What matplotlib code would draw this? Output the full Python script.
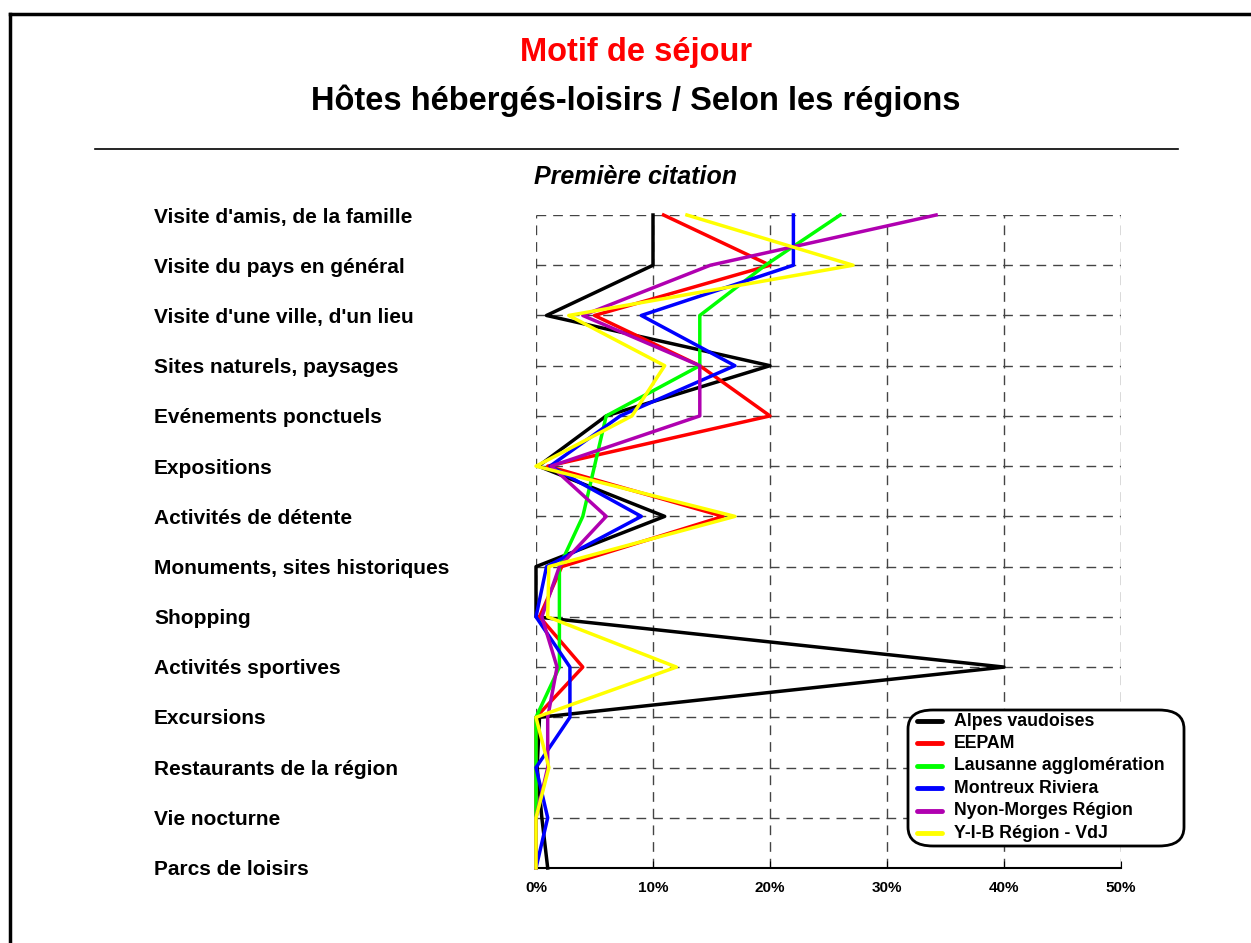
import matplotlib.pyplot as plt
from matplotlib.patches import FancyBboxPatch

plt.rcParams['font.family'] = ['Liberation Sans', 'DejaVu Sans']

# categories, top to bottom
categories = [
    "Visite d'amis, de la famille",
    "Visite du pays en général",
    "Visite d'une ville, d'un lieu",
    "Sites naturels, paysages",
    "Evénements ponctuels",
    "Expositions",
    "Activités de détente",
    "Monuments, sites historiques",
    "Shopping",
    "Activités sportives",
    "Excursions",
    "Restaurants de la région",
    "Vie nocturne",
    "Parcs de loisirs",
]

# percent values per region
alpes = [10, 10, 0.9, 20, 6, 0.2, 11, 0, 0, 40, 0.3, 0.1, 0.5, 1.0]
eepam = [10.9, 20, 5, 14, 20, 1, 16, 2.2, 0.3, 4, 0, 0, 0, 0]
lausanne = [26, 19.6, 14, 14, 6, 5, 4, 2, 2, 2, 0, 0, 0, 0]
montreux = [22, 22, 9, 17, 7.2, 1.2, 9, 0.9, 0, 2.9, 2.9, 0, 1, 0]
nyon = [34.2, 14.9, 4, 14, 14, 1.3, 6, 2, 0.5, 1.8, 1, 1, 0, 0]
yib = [12.9, 27.1, 2.8, 11, 8.2, 0, 17, 1.1, 1, 12, 0, 1.1, 0, 0]

series = [
    ("Alpes vaudoises", alpes, "#000000"),
    ("EEPAM", eepam, "#ff0000"),
    ("Lausanne agglomération", lausanne, "#00ff00"),
    ("Montreux Riviera", montreux, "#0000ff"),
    ("Nyon-Morges Région", nyon, "#b000b0"),
    ("Y-I-B Région - VdJ", yib, "#ffff00"),
]

fig = plt.figure(figsize=(12.51, 9.43), dpi=100)

# outer frame (top and left edges visible)
fig.add_artist(plt.Line2D([10 / 1251, 10 / 1251], [0, 1 - 14 / 943], color='black', lw=2.5))
fig.add_artist(plt.Line2D([10 / 1251, 1], [1 - 14 / 943, 1 - 14 / 943], color='black', lw=2.5))

# titles
fig.text(636 / 1251, 1 - 53 / 943, "Motif de séjour", color='#ff0000', fontsize=23.5,
         fontweight='bold', ha='center', va='center')
fig.text(636 / 1251, 1 - 101 / 943, "Hôtes hébergés-loisirs / Selon les régions", color='black',
         fontsize=23.5, fontweight='bold', ha='center', va='center')
fig.add_artist(plt.Line2D([95 / 1251, 1178 / 1251], [1 - 149 / 943, 1 - 149 / 943], color='black', lw=1.2))
fig.text(636 / 1251, 1 - 177 / 943, "Première citation", color='black', fontsize=18,
         fontweight='bold', style='italic', ha='center', va='center')

ax = fig.add_axes([536 / 1251, 1 - 868 / 943, 585 / 1251, (868 - 215) / 943])
y = list(range(len(categories)))

for name, vals, col in series:
    ax.plot(vals, y, color=col, lw=2.5, label=name, clip_on=False, zorder=3)

ax.set_xlim(0, 50)
ax.set_ylim(len(categories) - 1, 0)
ax.set_xticks([0, 10, 20, 30, 40, 50])
ax.set_xticklabels(["0%", "10%", "20%", "30%", "40%", "50%"], fontsize=11, fontweight='bold')
ax.tick_params(axis='x', direction='in', length=5, pad=9)
ax.set_yticks(y)
ax.set_yticklabels([])
ax.tick_params(axis='y', length=0)
ax.grid(True, color='#444444', linestyle=(0, (7, 5)), lw=1)
for s in ['top', 'right', 'left']:
    ax.spines[s].set_visible(False)
ax.spines['bottom'].set_linewidth(1.5)

# category labels on the left
for i, cat in enumerate(categories):
    ax.text(154 / 1251, 1 - (217 + i * 50.2) / 943, cat, transform=fig.transFigure,
            fontsize=15, fontweight='bold', ha='left', va='center')

# legend
box = FancyBboxPatch((908 / 1251, 1 - 846 / 943), 276 / 1251, 136 / 943,
                     boxstyle="round,pad=0,rounding_size=0.02", transform=fig.transFigure,
                     facecolor='white', edgecolor='black', lw=2, zorder=5)
fig.add_artist(box)
for i, (name, vals, col) in enumerate(series):
    yy = 1 - (721 + i * 22.4) / 943
    fig.add_artist(plt.Line2D([917 / 1251, 942 / 1251], [yy, yy], color=col, lw=3.5,
                              solid_capstyle='round', zorder=6))
    fig.text(954 / 1251, yy, name, fontsize=12.8, fontweight='bold', ha='left', va='center', zorder=6)

fig.savefig("out.png", dpi=100)
